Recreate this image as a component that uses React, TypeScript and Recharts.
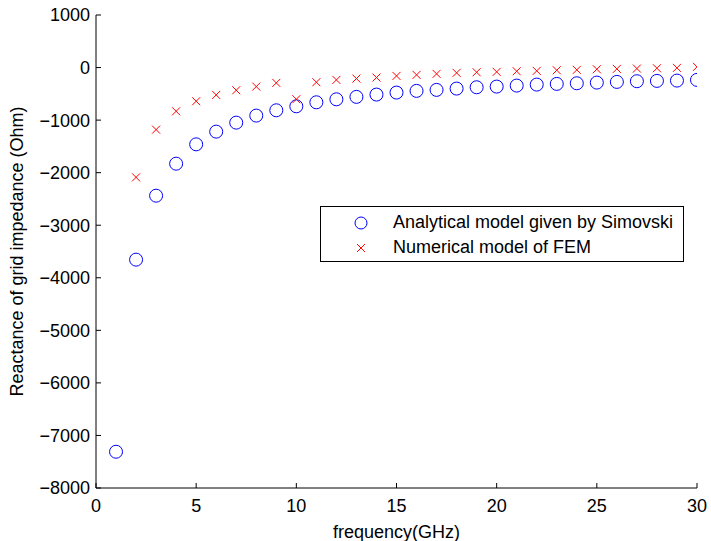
import React from 'react';
import { ScatterChart, Scatter, XAxis, YAxis } from 'recharts';

const freqs = [1, 2, 3, 4, 5, 6, 7, 8, 9, 10, 11, 12, 13, 14, 15, 16, 17, 18, 19, 20, 21, 22, 23, 24, 25, 26, 27, 28, 29, 30];

const analytical = [
  -7310, -3655, -2438, -1829, -1461, -1219, -1048, -914, -813, -737,
  -661, -604, -558, -514, -476, -444, -425, -400, -375, -362,
  -343, -324, -311, -299, -286, -273, -260, -254, -248, -235,
];

// no FEM point at 1 GHz
const numerical = [
  null, -2089, -1181, -832, -641, -521, -432, -362, -292, -603,
  -279, -235, -210, -190, -159, -139, -120, -101, -89, -82,
  -70, -63, -51, -44, -32, -25, -19, -13, -6, 13,
];

const xTicks = [0, 5, 10, 15, 20, 25, 30];
const yTicks = [1000, 0, -1000, -2000, -3000, -4000, -5000, -6000, -7000, -8000];

const seriesNames = ['Analytical model given by Simovski', 'Numerical model of FEM'];

const analyticalData = freqs.map((f, i) => ({ f, v: analytical[i] }));
const numericalData = freqs
  .map((f, i) => ({ f, v: numerical[i] }))
  .filter((d) => d.v !== null);

const FONT = '"Liberation Sans", Arial, sans-serif';
const FS = 18;
const fmt = (v: number) => String(v).replace('-', '\u2212');

const Circle = (props: any) => {
  const { cx, cy } = props;
  if (cx == null || cy == null) return null;
  return <circle cx={cx} cy={cy} r={6.5} fill="none" stroke="#0000ff" strokeWidth={1} />;
};

const Cross = (props: any) => {
  const { cx, cy } = props;
  if (cx == null || cy == null) return null;
  const s = 4;
  return (
    <g stroke="#ff0000" strokeWidth={1}>
      <line x1={cx - s} y1={cy - s} x2={cx + s} y2={cy + s} />
      <line x1={cx - s} y1={cy + s} x2={cx + s} y2={cy - s} />
    </g>
  );
};

const LegendBox = () => (
  <div
    style={{
      position: 'absolute',
      left: 320,
      top: 206,
      width: 362,
      height: 54,
      border: '1px solid #000',
      background: '#fff',
      fontFamily: FONT,
      fontSize: FS,
      color: '#000',
    }}
  >
    {seriesNames.map((name, i) => (
      <div key={name} style={{ position: 'absolute', left: 0, top: 3 + i * 25, height: 25, display: 'flex', alignItems: 'center', whiteSpace: 'nowrap' }}>
        <svg width={72} height={20}>
          {i === 0 ? (
            <circle cx={40} cy={10} r={6} fill="none" stroke="#0000ff" strokeWidth={1} />
          ) : (
            <g stroke="#ff0000" strokeWidth={1}>
              <line x1={36} y1={6} x2={44} y2={14} />
              <line x1={36} y1={14} x2={44} y2={6} />
            </g>
          )}
        </svg>
        <span>{name}</span>
      </div>
    ))}
  </div>
);

export default function App() {
  return (
    <div style={{ position: 'absolute', left: 0, top: 0, width: 711, height: 541, background: '#fff' }}>
      <ScatterChart width={711} height={541} margin={{ top: 15, right: 14, bottom: 0, left: 0 }}>
        <XAxis
          type="number"
          dataKey="f"
          domain={[0, 30]}
          ticks={xTicks}
          allowDataOverflow
          height={53}
          tickSize={-5}
          tickMargin={16}
          stroke="#000"
          tick={{ fill: '#000', fontSize: FS, fontFamily: FONT }}
          label={{ value: 'frequency(GHz)', position: 'insideBottom', offset: 3, fill: '#000', fontSize: FS, fontFamily: FONT }}
        />
        <YAxis
          type="number"
          dataKey="v"
          domain={[-8000, 1000]}
          ticks={yTicks}
          allowDataOverflow
          width={96}
          tickSize={-5}
          tickMargin={11}
          stroke="#000"
          tickFormatter={fmt}
          tick={{ fill: '#000', fontSize: FS, fontFamily: FONT }}
          label={{
            value: 'Reactance of grid impedance (Ohm)',
            angle: -90,
            position: 'insideLeft',
            offset: 17,
            style: { textAnchor: 'middle' },
            fill: '#000',
            fontSize: FS,
            fontFamily: FONT,
          }}
        />
        <Scatter name={seriesNames[0]} data={analyticalData} shape={<Circle />} isAnimationActive={false} />
        <Scatter name={seriesNames[1]} data={numericalData} shape={<Cross />} isAnimationActive={false} />
      </ScatterChart>
      <LegendBox />
    </div>
  );
}
